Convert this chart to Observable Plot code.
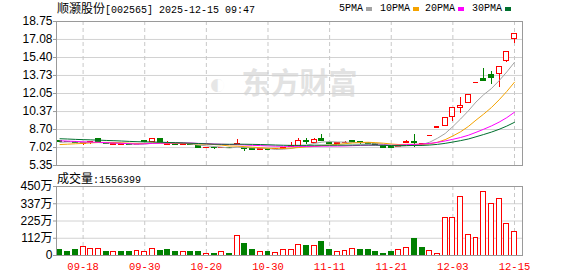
<!DOCTYPE html>
<html><head><meta charset="utf-8">
<script src="https://cdn.jsdelivr.net/npm/d3@7"></script>
<script src="https://cdn.jsdelivr.net/npm/@observablehq/plot@0.6"></script>
<style>
html,body{margin:0;padding:0;background:#fff;}
body{width:578px;height:276px;overflow:hidden;position:relative;}
.abs{position:absolute;white-space:nowrap;}
.cjk{font-family:"Noto Sans CJK SC",sans-serif;font-size:12px;}
.mono{font-family:"Liberation Mono",monospace;font-size:10px;}
#price{position:absolute;left:0;top:0;}
#vol{position:absolute;left:0;top:170px;}
.sw{position:absolute;width:6px;height:4px;}
svg{overflow:visible;}
</style></head><body>
<div id="price"></div>
<div id="vol"></div>
<div class="abs" id="title" style="left:57px;top:0px;line-height:15px;color:#000"></div>
<div class="abs" id="legend" style="left:0;top:0;"></div>
<div class="abs" id="volLabel" style="left:57px;top:170px;line-height:15px;color:#000"></div>
<script>
// ---- data ----
const stockName = "顺灏股份";
const stockCode = "[002565]";
const stamp = "2025-12-15 09:47";
const volumeLabel = "成交量";
const lastVolume = "1556399";
const dates = ["09-15","09-16","09-17","09-18","09-19","09-22","09-23","09-24","09-25","09-26",
  "09-29","09-30","10-09","10-10","10-13","10-14","10-15","10-16","10-17","10-20",
  "10-21","10-22","10-23","10-24","10-27","10-28","10-29","10-30","10-31","11-03",
  "11-04","11-05","11-06","11-07","11-10","11-11","11-12","11-13","11-14","11-17",
  "11-18","11-19","11-20","11-21","11-24","11-25","11-26","11-27","11-28","12-01",
  "12-02","12-03","12-04","12-05","12-08","12-09","12-10","12-11","12-12","12-15"];
const open = [7.62,7.55,7.50,7.38,7.44,7.78,7.48,7.30,7.30,7.32,
  7.24,7.60,7.58,7.78,7.30,7.38,7.28,7.36,7.20,7.00,
  7.00,6.96,6.99,7.33,6.98,6.89,6.80,6.86,6.84,6.92,
  7.10,7.20,7.60,7.45,7.85,7.42,7.36,7.42,7.60,7.50,
  7.40,7.36,7.20,7.08,7.08,7.45,7.50,7.33,8.12,8.93,
  9.05,9.85,10.68,11.14,13.07,13.39,13.76,13.82,15.12,17.15];
const high = [7.66,7.60,7.54,7.52,7.58,7.80,7.52,7.52,7.38,7.34,
  7.32,7.64,7.82,7.80,7.62,7.40,7.36,7.40,7.22,7.04,
  7.02,7.02,7.00,7.74,7.02,6.92,6.86,6.88,6.90,7.02,
  7.50,7.84,7.84,7.90,8.21,7.52,7.50,7.60,7.66,7.58,
  7.44,7.38,7.22,7.10,7.16,7.69,8.21,7.42,8.12,8.93,
  9.82,10.74,11.70,11.98,13.07,14.38,14.13,14.60,16.00,17.67];
const low = [7.50,7.45,7.38,7.22,7.35,7.50,7.28,7.25,7.26,7.18,
  7.20,7.50,7.55,7.45,7.25,7.25,7.24,7.26,6.95,6.96,
  6.85,6.94,6.92,7.30,6.62,6.78,6.78,6.80,6.82,6.90,
  7.05,7.15,7.30,7.42,7.58,7.30,7.32,7.40,7.45,7.32,
  7.30,7.18,6.98,6.96,7.05,7.38,7.04,7.30,8.12,8.93,
  9.00,9.44,10.22,11.10,13.07,13.14,12.90,12.59,14.90,16.74];
const close = [7.55,7.50,7.42,7.46,7.50,7.55,7.32,7.38,7.34,7.22,
  7.28,7.52,7.78,7.48,7.36,7.28,7.32,7.30,6.98,7.02,
  6.96,7.00,6.95,7.38,6.84,6.80,6.84,6.82,6.88,6.99,
  7.15,7.60,7.52,7.75,7.62,7.38,7.42,7.48,7.55,7.45,
  7.35,7.22,7.02,7.00,7.12,7.55,7.44,7.38,8.12,8.93,
  9.76,10.68,10.89,11.88,13.07,13.18,13.51,14.56,15.95,17.55];
// volume in 万 (10k shares)
const volume = [33,26,39,54,43,43,26,24,26,20,
  30,24,41,30,37,20,20,26,22,13,
  13,20,13,124,72,33,26,26,17,33,
  33,70,65,65,85,39,24,30,43,39,
  33,20,13,20,37,50,110,52,30,7,
  245,245,383,135,115,415,337,370,207,155.6];
// closes before the visible window, estimated from where the MA lines start
const priorClose = [8.3,8.4,8.2,8.1,8.3,8.2,8.1,8.2,8.3,8.1,
  8.1,8.0,8.2,8.0,7.9,8.0,8.1,7.9,7.8,8.0,
  7.15,7.05,7.10,7.02,7.18,7.25,7.45,7.65,7.60];
const priceTickLabels = ["5.35","7.02","8.70","10.37","12.05","13.73","15.40","17.08","18.75"];
const volTickValues = [0,112.5,225,337.5,450];
const volTickLabels = ["0","112万","225万","337万","450万"];
const dateTickLabels = ["09-18","09-30","10-20","10-30","11-11","11-21","12-03","12-15"];
const maPeriods = [5,10,20,30];
const maNames = ["5PMA","10PMA","20PMA","30PMA"];
const watermark = "东方财富";

// ---- derived ----
const RED = "#ff0000", GREEN = "#008000";
const maColors = ["#a3a3a3","#f5a300","#ff00ff","#00702e"];
const allClose = priorClose.concat(close);
const P = priorClose.length;
const rows = dates.map((d,i)=>{
  const prev = allClose[P+i-1];
  const o=open[i], c=close[i];
  const up = c>o || (c===o && c>=prev);
  const volUp = c>=prev;
  const r = {i, date:d, open:o, high:high[i], low:low[i], close:c, volume:volume[i], up, volUp};
  maPeriods.forEach(k=>{ r["ma"+k] = d3.mean(allClose.slice(P+i-k+1, P+i+1)); });
  return r;
});
const tickIdx = dateTickLabels.map(l=>dates.indexOf(l));
const priceTicks = priceTickLabels.map(Number);
const xDomain = [-0.454, 60.04];
const HW = 0.32;
const W = 578, ML = 56, MR = 56;
const fontAx = "Liberation Sans, Noto Sans CJK SC, sans-serif";

const price = Plot.plot({
  width: W, height: 176, marginTop: 21, marginBottom: 11, marginLeft: ML, marginRight: MR,
  style: {background:"transparent", fontFamily: fontAx, fontSize:"12px", color:"#000", overflow:"visible"},
  x: {domain: xDomain, axis: null},
  y: {domain: [priceTicks[0], priceTicks[priceTicks.length-1]], label: null},
  marks: [
    Plot.text([watermark], {frameAnchor:"middle", dx: 10, dy: -9, fontSize: 29, fontWeight: "bold",
      fill: "#e2e2e2", fontFamily: "Noto Sans CJK SC"}),
    Plot.text(["◐"], {frameAnchor:"middle", dx: -72, dy: -9, fontSize: 30, fill: "#e6e6e6"}),
    Plot.ruleY(priceTicks.slice(1,-1), {stroke:"#d2d2d2", strokeWidth:1}),
    Plot.ruleX(tickIdx, {stroke:"#c8c8c8", strokeDasharray:"4,3"}),
    Plot.ruleX(rows, {x:"i", y1:"low", y2:"high", stroke: d=>d.up?RED:GREEN, shapeRendering:"crispEdges"}),
    Plot.rect(rows.filter(d=>d.open!==d.close), {
      x1: d=>d.i-HW, x2: d=>d.i+HW,
      y1: d=>Math.min(d.open,d.close), y2: d=>Math.max(d.open,d.close),
      fill: d=>d.up?"#fff":GREEN, stroke: d=>d.up?RED:GREEN, strokeWidth:1, shapeRendering:"crispEdges"}),
    Plot.ruleY(rows.filter(d=>d.open===d.close), {y:"close", x1: d=>d.i-HW, x2: d=>d.i+HW,
      stroke: d=>d.up?RED:GREEN, strokeWidth:1.5, shapeRendering:"crispEdges"}),
    ...maPeriods.map((k,j)=>Plot.line(rows, {x:"i", y:"ma"+k, stroke: maColors[j], strokeWidth:1})),
    Plot.frame({stroke:"#9a9a9a"}),
    Plot.axisY({ticks: priceTicks, tickFormat: (d,i)=>priceTickLabels[i], tickSize: 3, tickPadding: 1,
      label: null, stroke:"#999", fill:"#000", fontSize: 12, fontFamily: fontAx})
  ]
});
document.getElementById("price").appendChild(price);

const vol = Plot.plot({
  width: W, height: 106, marginTop: 16, marginBottom: 21, marginLeft: ML, marginRight: MR,
  style: {background:"transparent", fontFamily: fontAx, fontSize:"12px", color:"#000", overflow:"visible"},
  x: {domain: xDomain, label: null},
  y: {domain: [0, 450], label: null},
  marks: [
    Plot.ruleY(volTickValues.slice(1,-1), {stroke:"#d2d2d2"}),
    Plot.ruleX(tickIdx, {stroke:"#c8c8c8", strokeDasharray:"4,3"}),
    Plot.rect(rows, {x1: d=>d.i-HW, x2: d=>d.i+HW, y1: 0, y2: "volume",
      fill: d=>d.volUp?"#fff":GREEN, stroke: d=>d.volUp?RED:GREEN, strokeWidth:1, shapeRendering:"crispEdges"}),
    Plot.frame({stroke:"#9a9a9a"}),
    Plot.axisY({ticks: volTickValues, tickFormat: (d,i)=>volTickLabels[i], tickSize: 3, tickPadding: 1,
      label: null, stroke:"#999", fill:"#000", fontSize: 12, fontFamily: fontAx}),
    Plot.axisX({ticks: tickIdx, tickFormat: d=>dates[d], tickSize: 0, tickPadding: 7, label: null,
      fill: RED, fontSize: 10.5, fontFamily: "Liberation Mono, monospace"})
  ]
});
document.getElementById("vol").appendChild(vol);

// title & labels
document.getElementById("title").innerHTML =
  `<span class="cjk">${stockName}</span><span class="mono" style="font-size:10px">${stockCode} ${stamp}</span>`;
document.getElementById("volLabel").innerHTML =
  `<span class="cjk">${volumeLabel}</span><span class="mono">:${lastVolume}</span>`;
const legend = document.getElementById("legend");
const legX = [339, 380, 425, 472];
maNames.forEach((n,j)=>{
  const t = document.createElement("div");
  t.className = "abs mono";
  t.style.cssText = `left:${legX[j]}px;top:2px;line-height:13px;color:#000;`;
  t.textContent = n;
  legend.appendChild(t);
  const s = document.createElement("div");
  s.className = "sw";
  s.style.cssText = `left:${legX[j] + n.length*6 + 3}px;top:7px;background:${maColors[j]};`;
  legend.appendChild(s);
});
</script>
</body></html>
